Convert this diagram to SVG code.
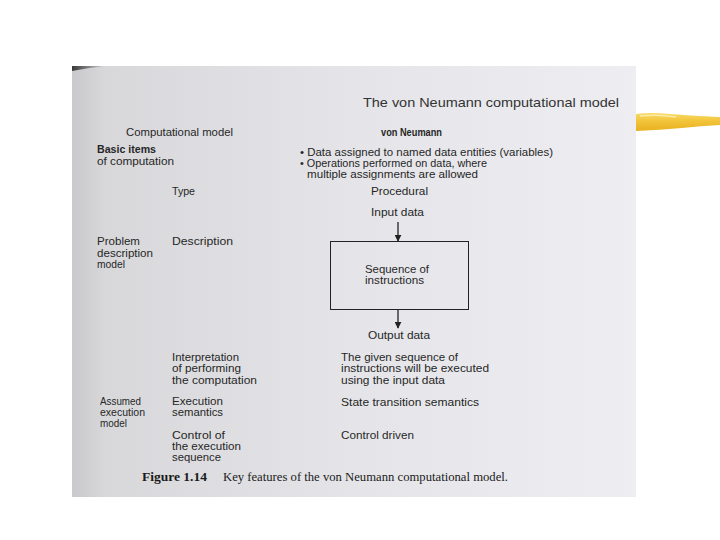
<svg xmlns="http://www.w3.org/2000/svg" width="720" height="540" viewBox="0 0 720 540">
<defs>
<linearGradient id="page" x1="0" y1="0" x2="1" y2="0">
<stop offset="0" stop-color="#c9c9cc"/>
<stop offset="0.06" stop-color="#d8d8db"/>
<stop offset="0.5" stop-color="#e5e5e9"/>
<stop offset="1" stop-color="#eeeef2"/>
</linearGradient>
<linearGradient id="yellow" x1="0" y1="0" x2="0" y2="1">
<stop offset="0" stop-color="#f6dc6a"/>
<stop offset="0.45" stop-color="#f2c43a"/>
<stop offset="1" stop-color="#e8b020"/>
</linearGradient>
<linearGradient id="corner" x1="0" y1="0" x2="1" y2="0">
<stop offset="0" stop-color="#3a3a3a"/>
<stop offset="1" stop-color="#3a3a3a" stop-opacity="0"/>
</linearGradient>
<marker id="arr" viewBox="0 0 10 10" refX="9" refY="5" markerWidth="7" markerHeight="7" markerUnits="userSpaceOnUse" orient="auto">
<path d="M0,0 L10,5 L0,10 z" fill="#222"/>
</marker>
<style>
.t{font-family:"Liberation Sans",Arial,sans-serif;font-size:10.5px;fill:#262626}
.b{font-weight:bold}
.title{font-family:"Liberation Sans",Arial,sans-serif;font-size:13px;fill:#333}
.cap{font-family:"Liberation Serif","Times New Roman",serif;font-size:12px;fill:#1a1a1a}
.box{fill:none;stroke:#222;stroke-width:1}
.con{stroke:#222;stroke-width:1.3;fill:none}
</style>
</defs>
<rect width="720" height="540" fill="#ffffff"/>
<g id="page-bg">
<rect x="72" y="66" width="564" height="431" fill="url(#page)"/>
<path d="M72,66 L106,66 Q90,67.5 72,71 z" fill="url(#corner)"/>
</g>
<g id="highlight">
<path d="M636,114 Q650,112 670,114 Q695,116 720,117 L720,125 Q700,126 682,128 Q660,130 636,131 z" fill="url(#yellow)"/>
<path d="M640,116 Q658,114 676,117" stroke="#fbeaa8" stroke-width="1.5" fill="none"/>
</g>
<text class="title" x="363" y="107" textLength="256" lengthAdjust="spacingAndGlyphs">The von Neumann computational model</text>
<g id="header">
<text class="t" x="126" y="136" textLength="107" lengthAdjust="spacingAndGlyphs">Computational model</text>
<text class="t b" x="381" y="136" textLength="61" lengthAdjust="spacingAndGlyphs">von Neumann</text>
</g>
<g id="basic-items">
<text class="t b" x="97" y="153" textLength="59" lengthAdjust="spacingAndGlyphs">Basic items</text>
<text class="t" x="97" y="165" textLength="77" lengthAdjust="spacingAndGlyphs">of computation</text>
<text class="t" x="300" y="156" textLength="253" lengthAdjust="spacingAndGlyphs">• Data assigned to named data entities (variables)</text>
<text class="t" x="300" y="167" textLength="187" lengthAdjust="spacingAndGlyphs">• Operations performed on data, where</text>
<text class="t" x="307" y="178" textLength="171" lengthAdjust="spacingAndGlyphs">multiple assignments are allowed</text>
</g>
<g id="type">
<text class="t" x="172" y="195" textLength="23" lengthAdjust="spacingAndGlyphs">Type</text>
<text class="t" x="371" y="195" textLength="57" lengthAdjust="spacingAndGlyphs">Procedural</text>
</g>
<g id="input">
<text class="t" x="371" y="216" textLength="53" lengthAdjust="spacingAndGlyphs">Input data</text>
</g>
<g id="problem-description">
<text class="t" x="97" y="245" textLength="43" lengthAdjust="spacingAndGlyphs">Problem</text>
<text class="t" x="97" y="257" textLength="56" lengthAdjust="spacingAndGlyphs">description</text>
<text class="t" x="97" y="268" textLength="28" lengthAdjust="spacingAndGlyphs">model</text>
<text class="t" x="172" y="245" textLength="61" lengthAdjust="spacingAndGlyphs">Description</text>
</g>
<g id="sequence-box">
<rect class="box" x="330.5" y="241.5" width="138" height="68"/>
<text class="t" x="365" y="273" textLength="64" lengthAdjust="spacingAndGlyphs">Sequence of</text>
<text class="t" x="365" y="284" textLength="59" lengthAdjust="spacingAndGlyphs">instructions</text>
</g>
<g id="output">
<text class="t" x="368" y="339" textLength="62" lengthAdjust="spacingAndGlyphs">Output data</text>
</g>
<g id="connectors">
<line class="con" x1="398" y1="222" x2="398" y2="241" marker-end="url(#arr)"/>
<line class="con" x1="398" y1="310" x2="398" y2="328" marker-end="url(#arr)"/>
</g>
<g id="interpretation">
<text class="t" x="172" y="361" textLength="67" lengthAdjust="spacingAndGlyphs">Interpretation</text>
<text class="t" x="172" y="372" textLength="69" lengthAdjust="spacingAndGlyphs">of performing</text>
<text class="t" x="172" y="384" textLength="85" lengthAdjust="spacingAndGlyphs">the computation</text>
<text class="t" x="341" y="361" textLength="117" lengthAdjust="spacingAndGlyphs">The given sequence of</text>
<text class="t" x="341" y="372" textLength="148" lengthAdjust="spacingAndGlyphs">instructions will be executed</text>
<text class="t" x="341" y="384" textLength="104" lengthAdjust="spacingAndGlyphs">using the input data</text>
</g>
<g id="assumed-execution">
<text class="t" x="100" y="405" textLength="41" lengthAdjust="spacingAndGlyphs">Assumed</text>
<text class="t" x="100" y="416" textLength="45" lengthAdjust="spacingAndGlyphs">execution</text>
<text class="t" x="100" y="427" textLength="27" lengthAdjust="spacingAndGlyphs">model</text>
<text class="t" x="172" y="405" textLength="51" lengthAdjust="spacingAndGlyphs">Execution</text>
<text class="t" x="172" y="416" textLength="51" lengthAdjust="spacingAndGlyphs">semantics</text>
<text class="t" x="341" y="406" textLength="138" lengthAdjust="spacingAndGlyphs">State transition semantics</text>
</g>
<g id="control">
<text class="t" x="172" y="439" textLength="53" lengthAdjust="spacingAndGlyphs">Control of</text>
<text class="t" x="172" y="450" textLength="69" lengthAdjust="spacingAndGlyphs">the execution</text>
<text class="t" x="172" y="461" textLength="49" lengthAdjust="spacingAndGlyphs">sequence</text>
<text class="t" x="341" y="439" textLength="73" lengthAdjust="spacingAndGlyphs">Control driven</text>
</g>
<g id="caption">
<text class="cap b" x="142" y="481" textLength="65" lengthAdjust="spacingAndGlyphs">Figure 1.14</text>
<text class="cap" x="223" y="481" textLength="285" lengthAdjust="spacingAndGlyphs">Key features of the von Neumann computational model.</text>
</g>
</svg>
